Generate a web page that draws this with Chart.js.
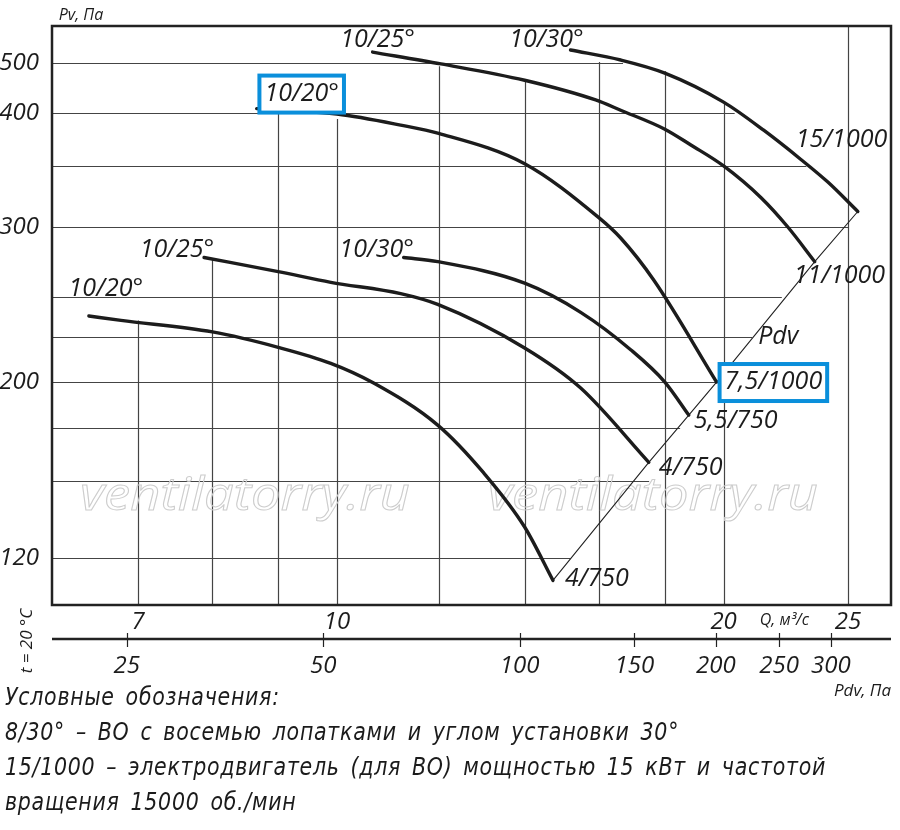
<!DOCTYPE html>
<html lang="ru">
<head>
<meta charset="utf-8">
<title>Pv-Q</title>
<script src="https://cdn.jsdelivr.net/npm/chart.js@4.4.1/dist/chart.umd.min.js"></script>
<style>
  html, body { margin: 0; padding: 0; background: #fff; }
  #box { position: relative; width: 900px; height: 830px; }
  #chart { position: absolute; left: 0; top: 0; }
  #notes {
    position: absolute; left: 5px; top: 679px;
    font-family: "Liberation Sans Narrow", "DejaVu Sans Condensed", sans-serif;
    font-style: italic; font-size: 25px; line-height: 35px;
    color: #1b1b1b; white-space: nowrap; letter-spacing: 0.8px; word-spacing: 4px;
    transform-origin: 0 0;
  }
  #notes div { display: block; width: max-content; }
</style>
</head>
<body>
<div id="box">
  <canvas id="chart" width="900" height="830"></canvas>
  <div id="notes">
    <div>Условные обозначения:</div>
    <div>8/30° – ВО с восемью лопатками и углом установки 30°</div>
    <div id="longest">15/1000 – электродвигатель (для ВО) мощностью 15 кВт и частотой</div>
    <div>вращения 15000 об./мин</div>
  </div>
</div>
<script>
// axis ticks
const qTicks = [7, 10, 20, 25];
const pvTicks = [120, 200, 300, 400, 500];
const pdvTicks = [25, 50, 100, 150, 200, 250, 300];

// grid lines (the paper stops them at the curves / Pdv line)
const qGrid = [7, 8, 9, 10, 12, 14, 16, 18, 20, 25];
const qGridTop = [235, 276, 404, 394, 493, 463, 502, 482, 421, 590];
const pvGrid = [500, 400, 350, 300, 250, 225, 200, 175, 150, 120];
const pvGridEnd = [16.7, 20.4, 23.2, 25, 22.2, 21.05, 19.8, 18.5, 17.5, 15.2];

// curves: Q, m3/s and Pv, Pa
const bladeNames = ["10/20°", "10/25°", "10/30°", "10/20°", "10/25°", "10/30°"];
const motorNames = ["4/750", "4/750", "5,5/750", "7,5/1000", "11/1000", "15/1000"];

const q1 = [6.41, 6.79, 8, 9, 9.89, 10.68, 11.98, 13.01, 14, 14.73];
const pv1 = [237.7, 235, 228, 219, 210, 199.4, 176.5, 153.6, 131.3, 112.6];

const q2 = [7.88, 9, 9.89, 11.21, 11.98, 14, 15.48, 17.49];
const pv2 = [277, 267, 259.6, 252, 245, 218.6, 196.5, 158.4];

const q3 = [11.27, 11.98, 14, 15.48, 16.94, 18, 18.79];
const pv3 = [277, 274, 259, 240, 217.5, 200, 181.7];

const q4 = [8.66, 9, 10, 11.21, 12, 14, 16, 16.63, 17.65, 19.75];
const pv4 = [408, 405.4, 399, 388, 380, 352, 307, 291.5, 261, 200];

const q5 = [10.66, 12.05, 14, 15.9, 16.63, 18, 18.86, 20, 21.39, 22.44, 23.55];
const pv5 = [525, 498, 463, 424, 405, 384, 369, 350, 323, 300, 274];

const q6 = [15.2, 16.63, 18, 20, 21.49, 22.96, 24.11, 25.44];
const pv6 = [530, 506.8, 478, 420, 383, 356, 336, 312];

const qs = [q1, q2, q3, q4, q5, q6];
const pvs = [pv1, pv2, pv3, pv4, pv5, pv6];

// label placement (px, from the curve start / end)
const startOff = [[17, -27], [-27, -8], [-27, -8], [45, -15], [5, -12], [-24, -10]];
const endOff = [[12, -2], [10, 6], [5, 6], [8, 0], [-21, 14], [-62, -72]];
const boxed = 3;

const ink = "#1c1c1c";
const italic = (px) => `italic ${px}px "Open Sans", sans-serif`;
const tickFont = { family: "Open Sans", style: "italic", size: 24 };

// the paper's Pv axis is log-like but not evenly stretched
class PaperScale extends Chart.LinearScale {
    static id = "paper";
    static defaults = Chart.LinearScale.defaults;
    warp(v) {
        const k = this.options.knots, f = this.options.knotPos;
        let i = 1;
        while (i < k.length - 1 && v > k[i]) i++;
        const a = Math.log(k[i - 1]), b = Math.log(k[i]);
        return f[i - 1] + (Math.log(v) - a) / (b - a) * (f[i] - f[i - 1]);
    }
    getPixelForValue(v) {
        return v == null ? NaN : this.getPixelForDecimal(this.warp(v));
    }
    getValueForPixel(p) {
        const k = this.options.knots, f = this.options.knotPos;
        const d = this.getDecimalForPixel(p);
        let i = 1;
        while (i < f.length - 1 && d > f[i]) i++;
        const t = (d - f[i - 1]) / (f[i] - f[i - 1]);
        return Math.exp(Math.log(k[i - 1]) + t * (Math.log(k[i]) - Math.log(k[i - 1])));
    }
}
Chart.register(PaperScale);

const datasets = qs.map((q, i) => ({
    data: q.map((v, j) => ({ x: v, y: pvs[i][j] })),
    borderColor: ink,
    borderWidth: 3.4,
    pointRadius: 0,
    cubicInterpolationMode: "monotone",
    borderCapStyle: "round",
    borderJoinStyle: "round",
}));
// Pdv line through the curve ends
datasets.push({
    data: qs.map((q, i) => ({ x: q[q.length - 1], y: pvs[i][pvs[i].length - 1] })),
    borderColor: "#222",
    borderWidth: 1.1,
    pointRadius: 0,
    tension: 0,
});

const boxAround = (ctx, cx, cy, w) => {
    ctx.save();
    ctx.fillStyle = "#fff";
    ctx.fillRect(cx - w / 2 - 5, cy - 18, w + 10, 37);
    ctx.strokeStyle = "#0a8fdb";
    ctx.lineWidth = 4;
    ctx.strokeRect(cx - w / 2 - 5, cy - 18, w + 10, 37);
    ctx.restore();
};

const paperPlugin = {
    id: "paperPlugin",
    beforeDatasetsDraw(chart) {
        const { ctx, chartArea: a, scales: { x, y } } = chart;
        ctx.save();
        ctx.strokeStyle = "#444";
        ctx.lineWidth = 1.2;
        ctx.beginPath();
        pvGrid.forEach((v, i) => {
            const py = Math.round(y.getPixelForValue(v)) + 0.5;
            ctx.moveTo(a.left, py);
            ctx.lineTo(x.getPixelForValue(pvGridEnd[i]), py);
        });
        qGrid.forEach((v, i) => {
            const px = Math.round(x.getPixelForValue(v)) + 0.5;
            ctx.moveTo(px, y.getPixelForValue(qGridTop[i]));
            ctx.lineTo(px, a.bottom);
        });
        ctx.stroke();

        // watermark
        ctx.font = italic(46);
        ctx.strokeStyle = "#cdcdcd";
        ctx.lineWidth = 1;
        ctx.textBaseline = "alphabetic";
        const mark = "ventilatorry.ru";
        const sx = 330 / ctx.measureText(mark).width;
        [80, 488].forEach((left) => {
            ctx.save();
            ctx.translate(left, 510);
            ctx.scale(sx, 1);
            ctx.strokeText(mark, 0, 0);
            ctx.restore();
        });
        ctx.restore();
    },
    afterDatasetsDraw(chart) {
        const { ctx, chartArea: a, scales: { x, y, x2 } } = chart;
        ctx.save();
        // frame
        ctx.strokeStyle = "#222";
        ctx.lineWidth = 2.5;
        ctx.strokeRect(a.left, a.top, a.right - a.left, a.bottom - a.top);
        // Pdv axis
        ctx.beginPath();
        ctx.moveTo(a.left, x2.top);
        ctx.lineTo(a.right, x2.top);
        ctx.stroke();
        ctx.lineWidth = 1.2;
        ctx.beginPath();
        pdvTicks.forEach((v) => {
            const px = Math.round(x2.getPixelForValue(v)) + 0.5;
            ctx.moveTo(px, x2.top - 6);
            ctx.lineTo(px, x2.top + 8);
        });
        ctx.stroke();

        // curve labels
        ctx.fillStyle = ink;
        ctx.font = italic(25);
        ctx.textBaseline = "middle";
        qs.forEach((q, i) => {
            const sx = x.getPixelForValue(q[0]) + startOff[i][0];
            const sy = y.getPixelForValue(pvs[i][0]) + startOff[i][1];
            const ex = x.getPixelForValue(q[q.length - 1]) + endOff[i][0];
            const ey = y.getPixelForValue(pvs[i][pvs[i].length - 1]) + endOff[i][1];
            const ws = ctx.measureText(bladeNames[i]).width;
            const we = ctx.measureText(motorNames[i]).width;
            if (i === boxed) {
                boxAround(ctx, sx, sy, ws);
                boxAround(ctx, ex + we / 2, ey, we);
            }
            ctx.textAlign = "center";
            ctx.fillText(bladeNames[i], sx, sy);
            ctx.textAlign = "left";
            ctx.fillText(motorNames[i], ex, ey);
        });
        ctx.fillText("Pdv", x.getPixelForValue(21.28), y.getPixelForValue(225));

        // axis titles
        ctx.font = italic(16);
        ctx.textAlign = "center";
        ctx.fillText("Pv, Па", a.left + 29, a.top - 11);
        ctx.fillText("Q, м³/с", x.getPixelForValue(22.3), x.top + 15);
        ctx.font = italic(17);
        ctx.textAlign = "right";
        ctx.fillText("Pdv, Па", a.right, x2.bottom + 11);
        ctx.translate(27, 641);
        ctx.rotate(-Math.PI / 2);
        ctx.textAlign = "center";
        ctx.fillText("t = 20 °C", 0, 0);
        ctx.restore();
    },
};

new Chart(document.getElementById("chart"), {
    type: "line",
    data: { datasets },
    plugins: [paperPlugin],
    options: {
        responsive: false,
        animation: false,
        layout: { padding: { top: 26, right: 9, bottom: 150, left: 0 } },
        plugins: { legend: { display: false }, tooltip: { enabled: false } },
        scales: {
            x: {
                type: "logarithmic",
                position: "bottom",
                min: 6,
                max: 27,
                afterBuildTicks: (s) => { s.ticks = qTicks.map((v) => ({ value: v })); },
                afterFit: (s) => { s.height = 34; },
                grid: { display: false },
                border: { display: false },
                ticks: { callback: (v) => String(v), font: tickFont, color: ink, padding: -5, maxRotation: 0 },
            },
            x2: {
                type: "logarithmic",
                position: "bottom",
                weight: 1,
                min: 19.2,
                max: 371,
                afterBuildTicks: (s) => { s.ticks = pdvTicks.map((v) => ({ value: v })); },
                afterFit: (s) => { s.height = 41; },
                grid: { display: false },
                border: { display: false },
                ticks: { callback: (v) => String(v), font: tickFont, color: ink, padding: 5, maxRotation: 0, autoSkip: false },
            },
            y: {
                type: "paper",
                min: 105,
                max: 590,
                knots: [105, 120, 200, 300, 400, 500, 590],
                knotPos: [0, 0.0812, 0.3851, 0.6528, 0.8497, 0.9361, 1],
                afterBuildTicks: (s) => { s.ticks = pvTicks.map((v) => ({ value: v })); },
                afterFit: (s) => { s.width = 52; },
                grid: { display: false },
                border: { display: false },
                ticks: { callback: (v) => String(v), font: tickFont, color: ink, padding: 5 },
            },
        },
    },
});

// squeeze the note lines to the condensed width of the original
const notes = document.getElementById("notes");
const w = document.getElementById("longest").getBoundingClientRect().width;
notes.style.transform = `scaleX(${821 / w})`;
</script>
</body>
</html>
